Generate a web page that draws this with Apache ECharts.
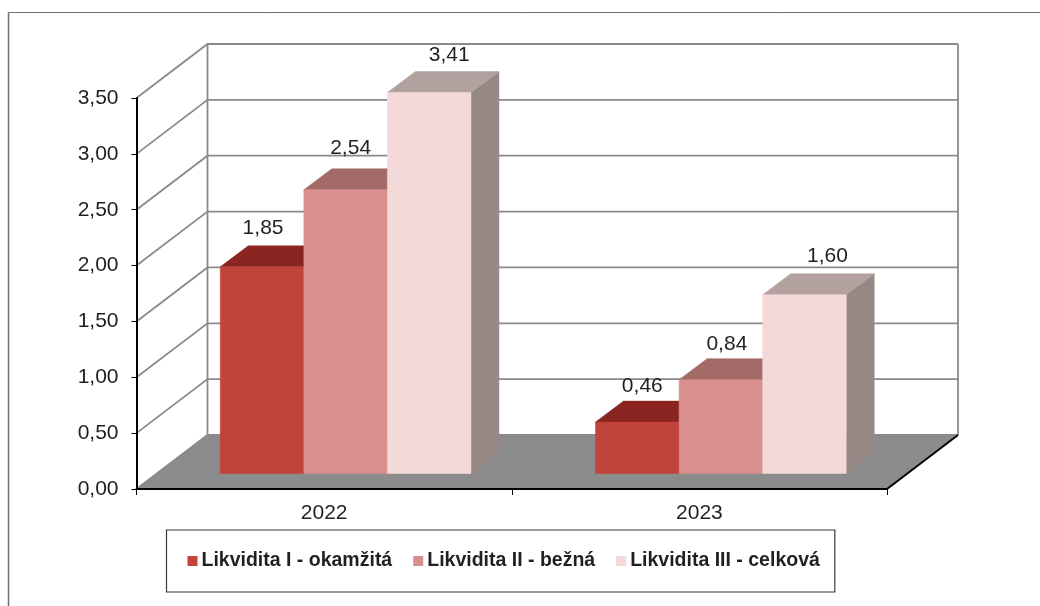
<!DOCTYPE html>
<html>
<head>
<meta charset="utf-8">
<title>Likvidita</title>
<script src="https://cdn.jsdelivr.net/npm/echarts@6/dist/echarts.min.js"></script>
<style>
  html, body { margin: 0; padding: 0; background: #fff; }
  #main { width: 1040px; height: 606px; }
</style>
</head>
<body>
<div id="main"></div>
<script>
var categories = ['2022', '2023'];
var likviditaI = [1.85, 0.46];
var likviditaII = [2.54, 0.84];
var likviditaIII = [3.41, 1.60];
var yTicks = [0, 0.5, 1, 1.5, 2, 2.5, 3, 3.5];

var FONT = '"Liberation Sans", Arial, sans-serif';
var TEXT = '#231f20';

// fake 3d: depth of the room, of the bars, and where the bars stand on the floor
var roomDx = 71, roomDy = -54;
var barDx = 28, barDy = -21;
var floorDx = 21.5, floorDy = -15.5;
var barShare = 0.2227;

// data label nudge from the middle of the front face, one per category
var labelNudge = [[[1, -39], [5, -42], [20, -37]], [[5, -36], [6, -35], [23, -39]]];

function poly(points, fill) {
    return { type: 'polygon', shape: { points: points }, style: { fill: fill, stroke: fill, lineWidth: 0.5 } };
}

// floor + walls, one data item per y tick
function renderRoom(params, api) {
    var v = api.value(0);
    var left = params.coordSys.x, right = left + params.coordSys.width;
    var y = api.coord([0, v])[1];
    var children = [];
    if (v === 0) {
        children.push(poly([[left, y], [right, y], [right + roomDx, y + roomDy], [left + roomDx, y + roomDy]], '#8c8c8c'));
    }
    var grid = [[left, y], [left + roomDx, y + roomDy], [right + roomDx, y + roomDy]];
    children.push({ type: 'polyline', shape: { points: grid }, style: { fill: null, stroke: '#8a8a8a', lineWidth: 1.8 } });
    if (v === yTicks[yTicks.length - 1]) {
        var y0 = api.coord([0, 0])[1];
        children.push({ type: 'line', shape: { x1: left + roomDx, y1: y + roomDy, x2: left + roomDx, y2: y0 + roomDy }, style: { stroke: '#8a8a8a', lineWidth: 1.8 } });
        children.push({ type: 'line', shape: { x1: right + roomDx, y1: y + roomDy, x2: right + roomDx, y2: y0 + roomDy }, style: { stroke: '#8a8a8a', lineWidth: 1.8 } });
        children.push({ type: 'line', shape: { x1: right, y1: y0, x2: right + roomDx, y2: y0 + roomDy }, style: { stroke: '#000', lineWidth: 2 } });
    }
    return { type: 'group', children: children };
}

function barRenderer(seriesPos, front, top, side) {
    return function (params, api) {
        var cat = api.value(0), val = api.value(1);
        var base = api.coord([cat, 0]);
        var head = api.coord([cat, val]);
        var w = api.size([1, 0])[0] * barShare;
        var x0 = base[0] + floorDx + (seriesPos - 1.5) * w;
        var x1 = x0 + w;
        var yb = base[1] + floorDy;
        var yt = head[1] + floorDy;
        var nudge = labelNudge[cat][seriesPos];
        return {
            type: 'group',
            children: [
                poly([[x1, yt], [x1 + barDx, yt + barDy], [x1 + barDx, yb + barDy], [x1, yb]], side),
                poly([[x0, yt], [x1, yt], [x1 + barDx, yt + barDy], [x0 + barDx, yt + barDy]], top),
                poly([[x0, yt], [x1, yt], [x1, yb], [x0, yb]], front),
                {
                    type: 'text',
                    style: {
                        x: x0 + w / 2 + nudge[0],
                        y: yt + nudge[1],
                        text: val.toFixed(2).replace('.', ','),
                        font: '21px ' + FONT,
                        fill: TEXT,
                        align: 'center',
                        verticalAlign: 'middle'
                    }
                }
            ]
        };
    };
}

function barSeries(name, values, pos, front, top, side) {
    return {
        name: name,
        type: 'custom',
        renderItem: barRenderer(pos, front, top, side),
        itemStyle: { color: front },
        encode: { x: 0, y: 1 },
        data: values.map(function (v, i) { return [i, v]; })
    };
}

var option = {
    animation: false,
    backgroundColor: '#fff',
    graphic: [
        { type: 'line', shape: { x1: 8.5, y1: 12.5, x2: 1040, y2: 12.5 }, style: { stroke: '#6e6e6e', lineWidth: 1 } },
        { type: 'line', shape: { x1: 8.5, y1: 12.5, x2: 8.5, y2: 606 }, style: { stroke: '#6e6e6e', lineWidth: 1.5 } }
    ],
    grid: { left: 136.5, top: 98, width: 750.5, height: 391 },
    legend: {
        left: 166.5,
        top: 530,
        orient: 'horizontal',
        padding: [21, 15, 21, 21],
        itemGap: 21,
        itemWidth: 10,
        itemHeight: 10,
        icon: 'rect',
        borderColor: '#3a3a3a',
        borderWidth: 1.2,
        backgroundColor: '#fff',
        textStyle: { fontFamily: FONT, fontSize: 19.5, fontWeight: 'bold', color: TEXT, padding: [0, 0, 0, -1] },
        data: ['Likvidita I - okamžitá', 'Likvidita II - bežná', 'Likvidita III - celková']
    },
    xAxis: {
        type: 'category',
        z: 10,
        data: categories,
        axisLine: { show: true, lineStyle: { color: '#000', width: 2 } },
        axisTick: { show: true, length: 6, lineStyle: { color: '#000', width: 1 } },
        axisLabel: { color: TEXT, fontFamily: FONT, fontSize: 21, margin: 14 },
        splitLine: { show: false }
    },
    yAxis: {
        type: 'value',
        z: 10,
        min: 0,
        max: 3.5,
        interval: 0.5,
        axisLine: { show: true, lineStyle: { color: '#000', width: 2 } },
        axisTick: { show: true, length: 5, lineStyle: { color: '#000', width: 1 } },
        axisLabel: {
            color: TEXT,
            fontFamily: FONT,
            fontSize: 21,
            margin: 18,
            padding: [2, 0, 0, 0],
            formatter: function (v) { return v.toFixed(2).replace('.', ','); }
        },
        splitLine: { show: false }
    },
    series: [
        {
            type: 'custom',
            silent: true,
            renderItem: renderRoom,
            encode: { y: 0 },
            z: 1,
            data: yTicks.map(function (v) { return [v]; })
        },
        barSeries('Likvidita I - okamžitá', likviditaI, 0, '#c0433c', '#8b2521', '#8b2521'),
        barSeries('Likvidita II - bežná', likviditaII, 1, '#d88f8e', '#a26b68', '#a26b68'),
        barSeries('Likvidita III - celková', likviditaIII, 2, '#f3dad9', '#b3a1a0', '#968985')
    ]
};

var myChart = echarts.init(document.getElementById('main'), null, { renderer: 'canvas' });
myChart.setOption(option);
</script>
</body>
</html>
